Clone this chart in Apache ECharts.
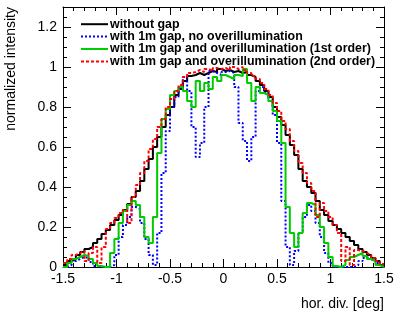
<!DOCTYPE html>
<html><head><meta charset="utf-8">
<script src="https://cdn.jsdelivr.net/npm/echarts@6/dist/echarts.min.js"></script>
<style>html,body{margin:0;padding:0;background:#fff}#c{width:397px;height:312px}</style>
</head><body><div id="c"></div>
<script>
// histogram binning (75 bins from -1.5 to 1.5)
const xMin = -1.5;
const xMax = 1.5;
const binWidth = 0.04;
const xTickLabels = ['-1.5', '-1', '-0.5', '0', '0.5', '1', '1.5'];
const yTickLabels = ['0', '0.2', '0.4', '0.6', '0.8', '1', '1.2'];
const seriesNames = [
  'without gap',
  'with 1m gap, no overillumination',
  'with 1m gap and overillumination (1st order)',
  'with 1m gap and overillumination (2nd order)'
];
const withoutGap = [
  0.01,0.03,0.04,0.06,0.075,0.09,0.10,0.12,0.14,0.165,0.185,0.21,0.235,0.26,0.285,0.315,0.35,0.38,0.43,0.49,
  0.54,0.60,0.65,0.70,0.76,0.80,0.86,0.89,0.93,0.955,0.96,0.97,0.96,0.97,0.98,0.975,0.99,0.98,0.985,0.975,
  0.98,0.97,0.975,0.96,0.95,0.93,0.91,0.88,0.85,0.80,0.75,0.71,0.66,0.61,0.56,0.49,0.43,0.40,0.37,0.33,
  0.285,0.26,0.23,0.21,0.19,0.17,0.15,0.13,0.11,0.09,0.075,0.06,0.045,0.03,0.01
];
const gapNoOver = [
  0,0.01,0.03,0.04,0.05,0.045,0.025,0.005,0,0,0,0.01,0.06,0.15,0.21,0.25,0.30,0.29,0.22,0.14,
  0.06,0.01,0.17,0.47,0.68,0.80,0.85,0.89,0.95,0.88,0.70,0.55,0.62,0.80,0.98,0.97,0.96,0.975,0.98,0.97,
  0.90,0.72,0.63,0.53,0.65,0.88,0.90,0.87,0.83,0.76,0.62,0.33,0.10,0.01,0.08,0.17,0.25,0.31,0.28,0.22,
  0.15,0.07,0.02,0,0,0,0,0,0.01,0.03,0.045,0.05,0.035,0.02,0.005
];
const gapOver1st = [
  0,0.02,0.04,0.05,0.06,0.055,0.04,0.02,0.005,0,0,0.07,0.14,0.22,0.28,0.31,0.33,0.31,0.25,0.15,
  0.12,0.25,0.57,0.74,0.79,0.86,0.88,0.90,0.88,0.83,0.80,0.93,0.88,0.92,0.89,0.95,0.93,0.96,0.95,0.94,
  0.96,0.955,0.99,0.92,0.83,0.90,0.87,0.86,0.83,0.78,0.73,0.62,0.30,0.17,0.10,0.17,0.27,0.32,0.31,0.26,
  0.20,0.12,0.05,0.005,0,0.01,0.035,0.05,0.06,0.07,0.055,0.04,0.03,0.01,0
];
const gapOver2nd = [
  0.02,0.04,0.06,0.07,0.08,0.03,0.07,0.10,0.02,0.10,0.19,0.22,0.245,0.27,0.285,0.22,0.35,0.41,0.47,0.53,
  0.59,0.64,0.70,0.74,0.80,0.84,0.88,0.91,0.95,0.97,0.975,0.985,0.975,0.99,0.98,0.995,0.99,0.995,0.985,1.0,
  0.99,1.0,0.985,0.97,0.955,0.94,0.92,0.89,0.86,0.82,0.78,0.73,0.69,0.63,0.58,0.52,0.47,0.42,0.38,0.25,
  0.32,0.28,0.25,0.21,0.17,0.03,0.10,0.01,0.085,0.08,0.07,0.06,0.045,0.03,0.015
];

function histData(vals) {
  const d = vals.map((v, i) => [xMin + i * binWidth, v]);
  d.push([xMin + vals.length * binWidth, vals[vals.length - 1]]);
  return d;
}

const FONT = 'Liberation Sans, Arial, Helvetica, sans-serif';
const chart = echarts.init(document.getElementById('c'), null, {renderer: 'canvas'});

const baseX = {
  type: 'value', min: xMin, max: xMax, interval: 0.5,
  axisLine: {show: true, onZero: false, lineStyle: {color: '#000', width: 1}},
  axisTick: {show: true, inside: true, length: 8, lineStyle: {color: '#000'}},
  minorTick: {show: true, splitNumber: 5, length: 4, lineStyle: {color: '#000'}},
  splitLine: {show: false}
};
const baseY = {
  type: 'value', min: 0, max: 1.3, interval: 0.2,
  axisLine: {show: true, onZero: false, lineStyle: {color: '#000', width: 1}},
  axisTick: {show: true, inside: true, length: 8, lineStyle: {color: '#000'}},
  minorTick: {show: true, splitNumber: 4, length: 4, lineStyle: {color: '#000'}},
  splitLine: {show: false}
};

function mkSeries(name, vals, color, type) {
  return {
    name: name, type: 'line', step: 'end', data: histData(vals),
    xAxisIndex: 0, yAxisIndex: 0,
    showSymbol: false, symbol: 'none', animation: false,
    lineStyle: {color: color, width: 2, type: type},
    itemStyle: {color: color}
  };
}

chart.setOption({
  animation: false,
  backgroundColor: '#fff',
  grid: {left: 63, right: 13, top: 7, bottom: 45, containLabel: false},
  xAxis: [
    Object.assign({}, baseX, {
      position: 'bottom',
      axisLabel: {show: true, color: '#000', fontSize: 14, fontFamily: FONT, margin: 5,
        formatter: v => xTickLabels[Math.round((v - xMin) / 0.5)]}
    }),
    Object.assign({}, baseX, {position: 'top', axisLabel: {show: false}})
  ],
  yAxis: [
    Object.assign({}, baseY, {
      position: 'left',
      axisLabel: {show: true, color: '#000', fontSize: 14, fontFamily: FONT, margin: 6,
        formatter: v => yTickLabels[Math.round(v / 0.2)]}
    }),
    Object.assign({}, baseY, {position: 'right', axisLabel: {show: false}})
  ],
  legend: {
    orient: 'vertical', left: 75, top: 13,
    itemWidth: 27, itemHeight: 8, itemGap: 0,
    itemStyle: {opacity: 0},
    data: seriesNames,
    textStyle: {color: '#000', fontSize: 12.4, fontWeight: 'bold', fontFamily: FONT,
      lineHeight: 12.4, height: 12.4, padding: [0,0,0,-3]}
  },
  graphic: [
    {type: 'text', right: 13, top: 297,
      style: {text: 'hor. div. [deg]', fill: '#000', font: '14px ' + FONT, textAlign: 'right'}},
    {type: 'text', left: 4, top: 7, rotation: Math.PI / 2,
      style: {text: 'normalized intensity', fill: '#000', font: '14px ' + FONT}}
  ],
  series: [
    mkSeries(seriesNames[0], withoutGap, '#000000', 'solid'),
    mkSeries(seriesNames[1], gapNoOver, '#0000ff', [2, 2]),
    mkSeries(seriesNames[2], gapOver1st, '#00cc00', 'solid'),
    mkSeries(seriesNames[3], gapOver2nd, '#ff0000', [3, 2])
  ]
});
</script></body></html>
